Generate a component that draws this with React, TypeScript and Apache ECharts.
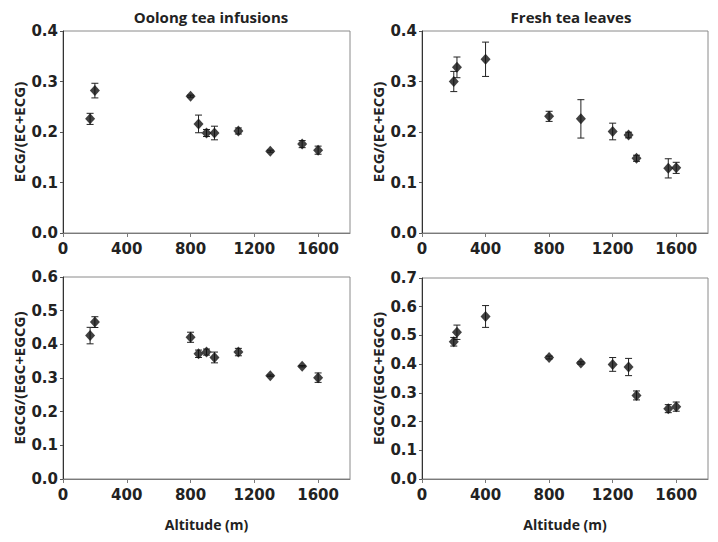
import React, { useEffect, useRef } from "react";
import * as echarts from "echarts";

// Panel titles & axis names
const panelTitles = ["Oolong tea infusions", "Fresh tea leaves"];
const yNames = ["ECG/(EC+ECG)", "ECG/(EC+ECG)", "EGCG/(EGC+EGCG)", "EGCG/(EGC+EGCG)"];
const xName = "Altitude (m)";
const yMaxes = [0.4, 0.4, 0.6, 0.7];

// Oolong tea infusions — ECG/(EC+ECG)
const oolongAlt = [170, 200, 800, 850, 900, 950, 1100, 1300, 1500, 1600];
const oolongEcg = [0.226, 0.282, 0.271, 0.216, 0.198, 0.198, 0.202, 0.162, 0.176, 0.164];
const oolongEcgErr = [0.011, 0.0145, 0.002, 0.0175, 0.007, 0.0135, 0.006, 0.002, 0.007, 0.008];

// Oolong tea infusions — EGCG/(EGC+EGCG)
const oolongEgcg = [0.426, 0.466, 0.421, 0.372, 0.377, 0.361, 0.377, 0.307, 0.335, 0.301];
const oolongEgcgErr = [0.0245, 0.016, 0.015, 0.011, 0.009, 0.016, 0.011, 0.002, 0.002, 0.014];

// Fresh tea leaves — ECG/(EC+ECG)
const freshAlt = [200, 220, 400, 800, 1000, 1200, 1300, 1350, 1550, 1600];
const freshEcg = [0.300, 0.328, 0.344, 0.231, 0.226, 0.201, 0.194, 0.148, 0.128, 0.129];
const freshEcgErr = [0.02, 0.0205, 0.034, 0.01, 0.038, 0.0165, 0.0056, 0.006, 0.019, 0.011];

// Fresh tea leaves — EGCG/(EGC+EGCG)
const freshEgcg = [0.478, 0.511, 0.566, 0.423, 0.404, 0.399, 0.390, 0.291, 0.245, 0.252];
const freshEgcgErr = [0.015, 0.025, 0.038, 0.005, 0.004, 0.024, 0.03, 0.0156, 0.014, 0.016];

const TICK_FONT = "DejaVu Sans";
const TEXT_FONT = "Open Sans";

const grids = [
  { left: 63, top: 31, width: 287, height: 202 },
  { left: 422, top: 31, width: 286, height: 202 },
  { left: 63, top: 277, width: 287, height: 202 },
  { left: 422, top: 278, width: 286, height: 201 },
];

function errorSeries(idx: number, xs: number[], ys: number[], errs: number[]) {
  return {
    type: "custom",
    xAxisIndex: idx,
    yAxisIndex: idx,
    silent: true,
    z: 3,
    data: xs.map((x, i) => [x, ys[i] - errs[i], ys[i] + errs[i]]),
    renderItem: (params: any, api: any) => {
      const x = api.value(0);
      const lo = api.coord([x, api.value(1)]);
      const hi = api.coord([x, api.value(2)]);
      const cap = 3.5;
      const style = { stroke: "#222", lineWidth: 1 };
      return {
        type: "group",
        children: [
          { type: "line", shape: { x1: lo[0], y1: lo[1], x2: hi[0], y2: hi[1] }, style },
          { type: "line", shape: { x1: lo[0] - cap, y1: lo[1], x2: lo[0] + cap, y2: lo[1] }, style },
          { type: "line", shape: { x1: hi[0] - cap, y1: hi[1], x2: hi[0] + cap, y2: hi[1] }, style },
        ],
      };
    },
  };
}

function pointSeries(idx: number, xs: number[], ys: number[]) {
  return {
    type: "scatter",
    xAxisIndex: idx,
    yAxisIndex: idx,
    symbol: "diamond",
    symbolSize: [10, 11],
    z: 4,
    itemStyle: { color: "#111" },
    data: xs.map((x, i) => [x, ys[i]]),
  };
}

export default function App() {
  const ref = useRef<HTMLDivElement>(null);
  useEffect(() => {
    document.body.style.margin = "0";
    if (!ref.current) return;
    const chart = echarts.init(ref.current, undefined, { renderer: "svg" });
    const titleStyle = { fontFamily: TEXT_FONT, fontSize: 15, fontWeight: "bold", color: "#222" };
    const option: any = {
      animation: false,
      backgroundColor: "#ffffff",
      title: [
        { text: panelTitles[0], left: 206, top: 4, textAlign: "center", textStyle: titleStyle },
        { text: panelTitles[1], left: 566, top: 4, textAlign: "center", textStyle: titleStyle },
      ],
      grid: grids.map((g) => ({ ...g, show: true, borderColor: "#8a8a8a", borderWidth: 1, backgroundColor: "transparent" })),
      xAxis: grids.map((_, i) => ({
        type: "value",
        gridIndex: i,
        min: 0,
        max: 1800,
        interval: 400,
        name: i >= 2 ? xName : "",
        nameLocation: "middle",
        nameGap: 38,
        nameTextStyle: { fontFamily: TEXT_FONT, fontSize: 14, fontWeight: "bold", color: "#222" },
        splitLine: { show: false },
        axisLine: { show: true, lineStyle: { color: "#7a7a7a", width: 1 } },
        axisTick: { show: true, length: 4, inside: false, lineStyle: { color: "#7a7a7a" } },
        axisLabel: {
          showMaxLabel: false,
          margin: 8,
          fontFamily: TICK_FONT,
          fontSize: 15,
          fontWeight: "bold",
          color: "#222",
          formatter: (v: number) => String(v),
        },
      })),
      yAxis: grids.map((_, i) => ({
        type: "value",
        gridIndex: i,
        min: 0,
        max: yMaxes[i],
        interval: 0.1,
        name: yNames[i],
        nameLocation: "middle",
        nameRotate: 90,
        nameGap: 37,
        nameTextStyle: { fontFamily: TEXT_FONT, fontSize: 15, fontWeight: "bold", color: "#222" },
        splitLine: { show: false },
        axisLine: { show: true, lineStyle: { color: "#333", width: 1 } },
        axisTick: { show: true, length: 3, inside: false, lineStyle: { color: "#555" } },
        axisLabel: {
          margin: 5,
          fontFamily: TICK_FONT,
          fontSize: 15,
          fontWeight: "bold",
          color: "#222",
          formatter: (v: number) => v.toFixed(1),
        },
      })),
      series: [
        errorSeries(0, oolongAlt, oolongEcg, oolongEcgErr),
        pointSeries(0, oolongAlt, oolongEcg),
        errorSeries(1, freshAlt, freshEcg, freshEcgErr),
        pointSeries(1, freshAlt, freshEcg),
        errorSeries(2, oolongAlt, oolongEgcg, oolongEgcgErr),
        pointSeries(2, oolongAlt, oolongEgcg),
        errorSeries(3, freshAlt, freshEgcg, freshEgcgErr),
        pointSeries(3, freshAlt, freshEgcg),
      ],
    };
    chart.setOption(option);
    return () => chart.dispose();
  }, []);
  return <div ref={ref} style={{ width: 718, height: 542 }} />;
}
